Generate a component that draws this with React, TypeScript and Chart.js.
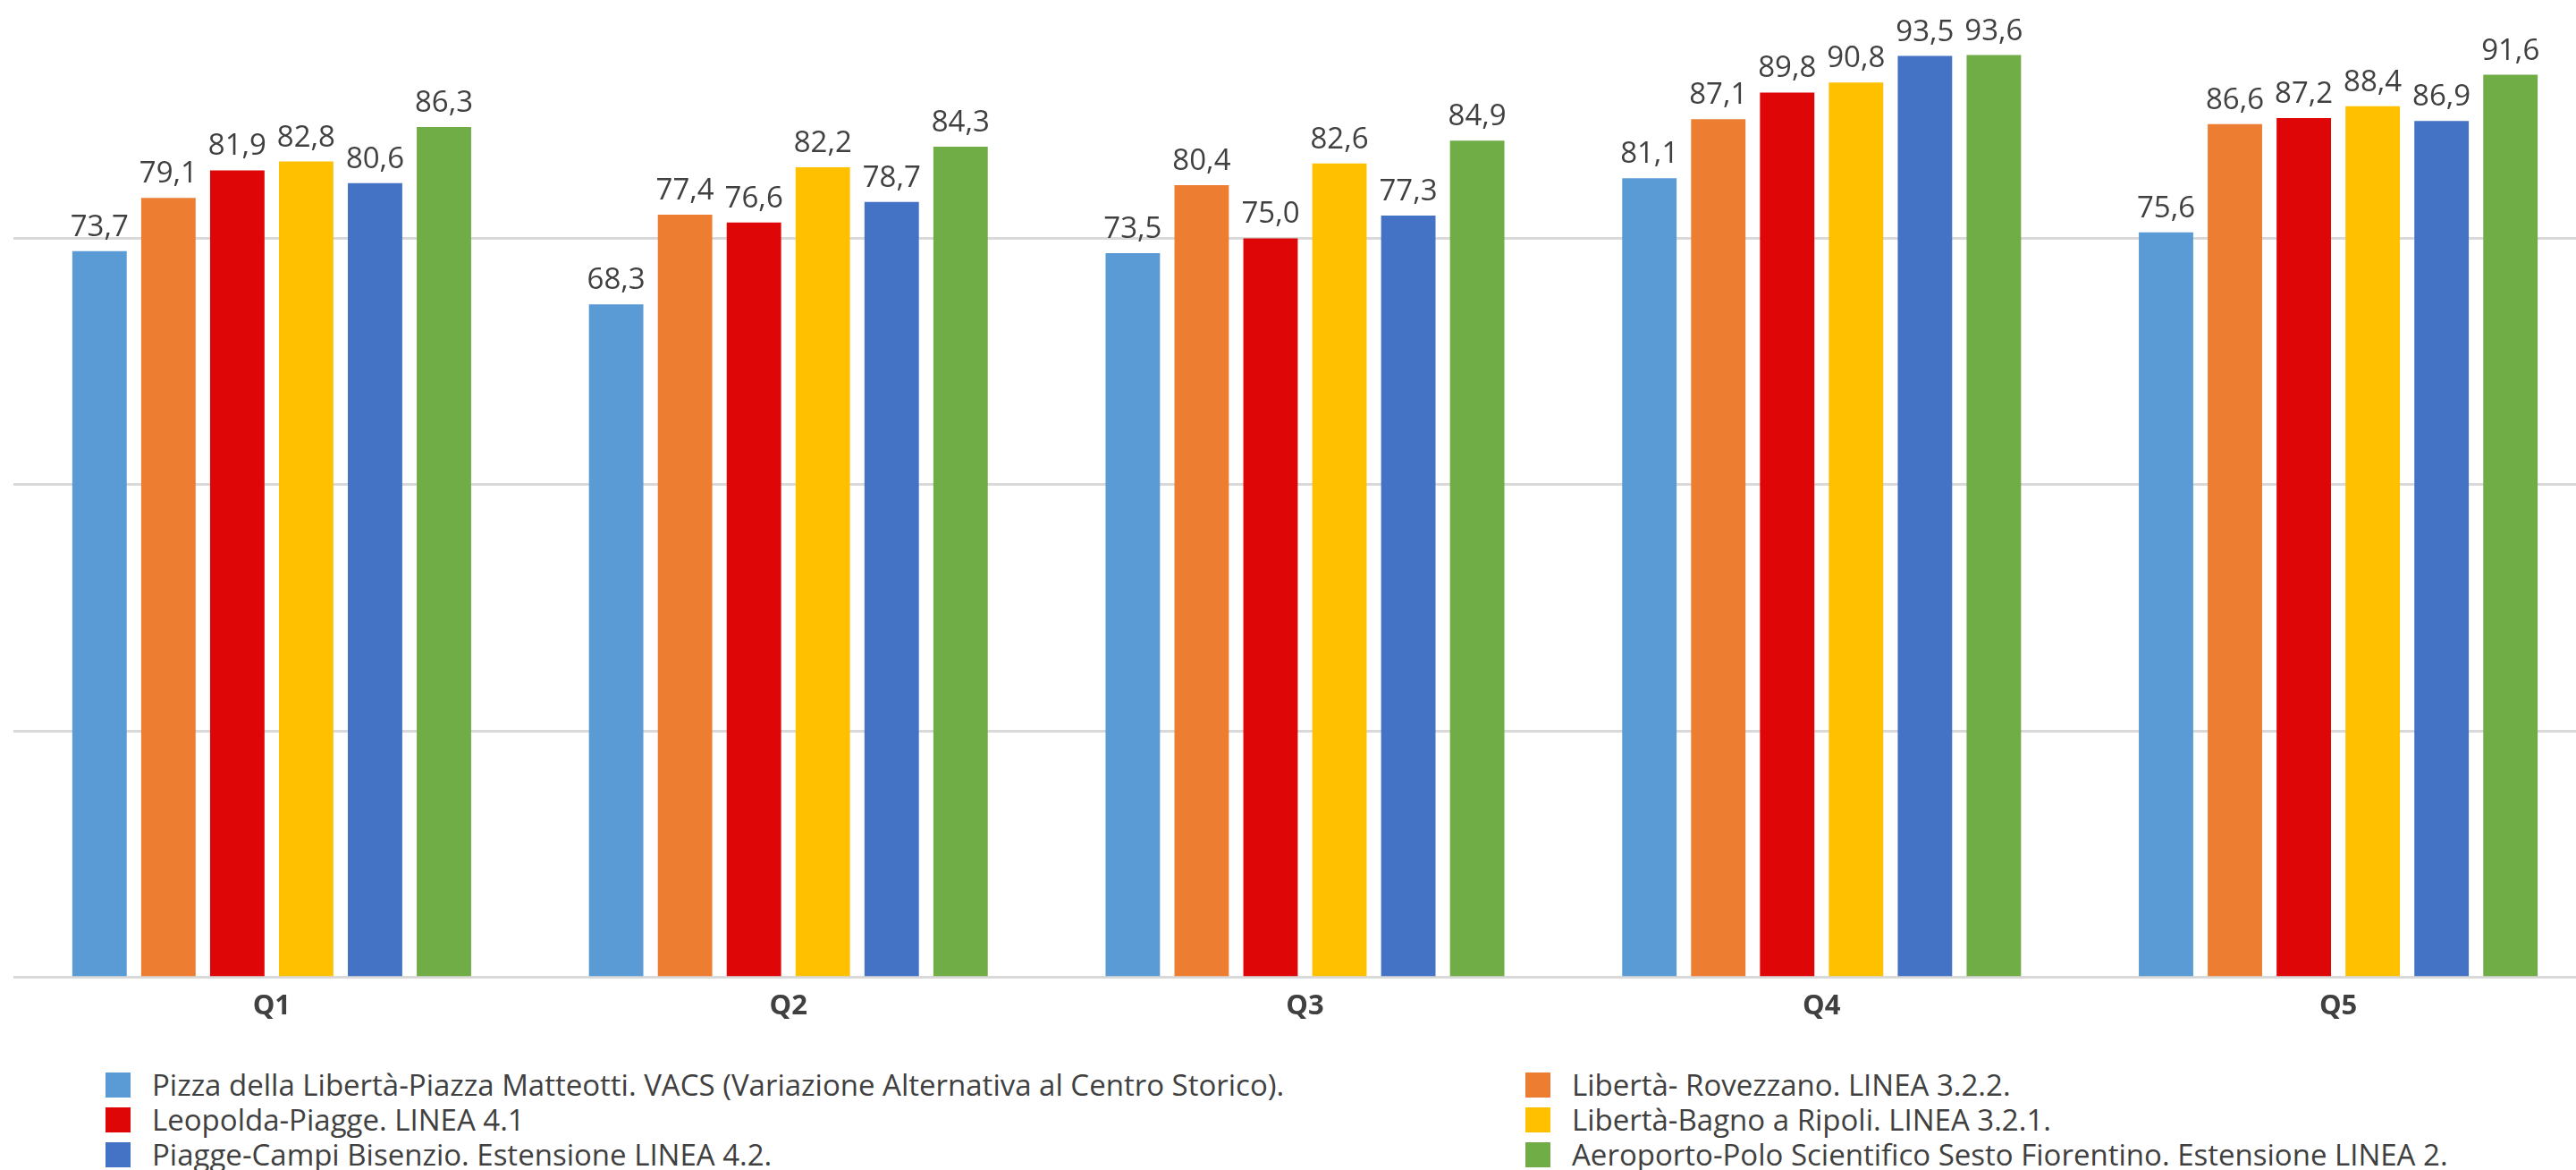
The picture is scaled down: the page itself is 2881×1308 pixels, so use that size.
import React, { useEffect, useRef } from "react";
import { Chart, registerables } from "chart.js";

Chart.register(...registerables);

const categories = ["Q1", "Q2", "Q3", "Q4", "Q5"];

const seriesNames = [
  "Pizza della Libertà-Piazza Matteotti. VACS (Variazione Alternativa al Centro Storico).",
  "Libertà- Rovezzano. LINEA 3.2.2.",
  "Leopolda-Piagge. LINEA 4.1",
  "Libertà-Bagno a Ripoli. LINEA 3.2.1.",
  "Piagge-Campi Bisenzio. Estensione LINEA 4.2.",
  "Aeroporto-Polo Scientifico Sesto Fiorentino. Estensione LINEA 2.",
];

const seriesColors = ["#5B9BD5", "#ED7D31", "#DE0606", "#FFC000", "#4472C4", "#70AD47"];

const pizzaMatteotti = [73.7, 68.3, 73.5, 81.1, 75.6];
const libertaRovezzano = [79.1, 77.4, 80.4, 87.1, 86.6];
const leopoldaPiagge = [81.9, 76.6, 75.0, 89.8, 87.2];
const libertaBagnoRipoli = [82.8, 82.2, 82.6, 90.8, 88.4];
const piaggeCampi = [80.6, 78.7, 77.3, 93.5, 86.9];
const aeroportoPolo = [86.3, 84.3, 84.9, 93.6, 91.6];

const seriesValues = [
  pizzaMatteotti,
  libertaRovezzano,
  leopoldaPiagge,
  libertaBagnoRipoli,
  piaggeCampi,
  aeroportoPolo,
];

const yTicks = { min: 0, max: 100, step: 25 };

const fmt = (v: number) => v.toFixed(1).replace(".", ",");

const valueLabels = {
  id: "valueLabels",
  afterDatasetsDraw(chart: any) {
    const ctx = chart.ctx;
    ctx.save();
    ctx.font = '33px "Open Sans"';
    ctx.fillStyle = "#404040";
    ctx.textAlign = "center";
    ctx.textBaseline = "alphabetic";
    chart.data.datasets.forEach((ds: any, i: number) => {
      const meta = chart.getDatasetMeta(i);
      meta.data.forEach((bar: any, j: number) => {
        ctx.fillText(fmt(ds.data[j]), bar.x, bar.y - 17);
      });
    });
    ctx.restore();
  },
};

const CANVAS_LEFT = 15;
const CANVAS_TOP = -9;
const CANVAS_W = 2889;
const CANVAS_H = 1167;

export default function App() {
  const ref = useRef<HTMLCanvasElement | null>(null);

  useEffect(() => {
    if (!ref.current) return;
    const chart = new Chart(ref.current, {
      type: "bar",
      data: {
        labels: categories,
        datasets: seriesNames.map((name, i) => ({
          label: name,
          data: seriesValues[i],
          backgroundColor: seriesColors[i],
          borderWidth: 0,
          categoryPercentage: 0.8,
          barPercentage: 0.79,
        })),
      },
      options: {
        responsive: false,
        animation: false,
        devicePixelRatio: 1,
        layout: { padding: 0 },
        plugins: {
          legend: { display: false },
          tooltip: { enabled: false },
          title: { display: false },
        },
        scales: {
          x: {
            grid: { display: false, drawTicks: false },
            border: { display: true, color: "#D9D9D9", width: 3 },
            ticks: {
              padding: 14,
              color: "#404040",
              font: { family: "'Open Sans'", size: 31, weight: "bold" },
            },
          },
          y: {
            min: yTicks.min,
            max: yTicks.max,
            ticks: { display: false, stepSize: yTicks.step },
            grid: { color: "#D9D9D9", lineWidth: 3, drawTicks: false },
            border: { display: false },
          },
        },
      },
      plugins: [valueLabels],
    });
    return () => chart.destroy();
  }, []);

  return (
    <div
      style={{
        position: "fixed",
        left: 0,
        top: 0,
        width: 2881,
        height: 1308,
        overflow: "hidden",
        background: "#fff",
        fontFamily: "'Open Sans', sans-serif",
      }}
    >
      <canvas
        ref={ref}
        width={CANVAS_W}
        height={CANVAS_H}
        style={{
          position: "absolute",
          left: CANVAS_LEFT,
          top: CANVAS_TOP,
          width: CANVAS_W,
          height: CANVAS_H,
        }}
      />
      {seriesNames.map((name, i) => {
        const col = i % 2;
        const row = Math.floor(i / 2);
        const left = col === 0 ? 118 : 1706;
        const centerY = [1213, 1252, 1291][row];
        return (
          <div
            key={name}
            style={{
              position: "absolute",
              left,
              top: centerY - 20,
              height: 40,
              display: "flex",
              alignItems: "center",
              whiteSpace: "nowrap",
            }}
          >
            <span
              style={{
                display: "inline-block",
                width: 28,
                height: 28,
                background: seriesColors[i],
                marginRight: 24,
                flex: "none",
              }}
            />
            <span style={{ fontSize: 33, color: "#404040", lineHeight: "40px" }}>{name}</span>
          </div>
        );
      })}
    </div>
  );
}
